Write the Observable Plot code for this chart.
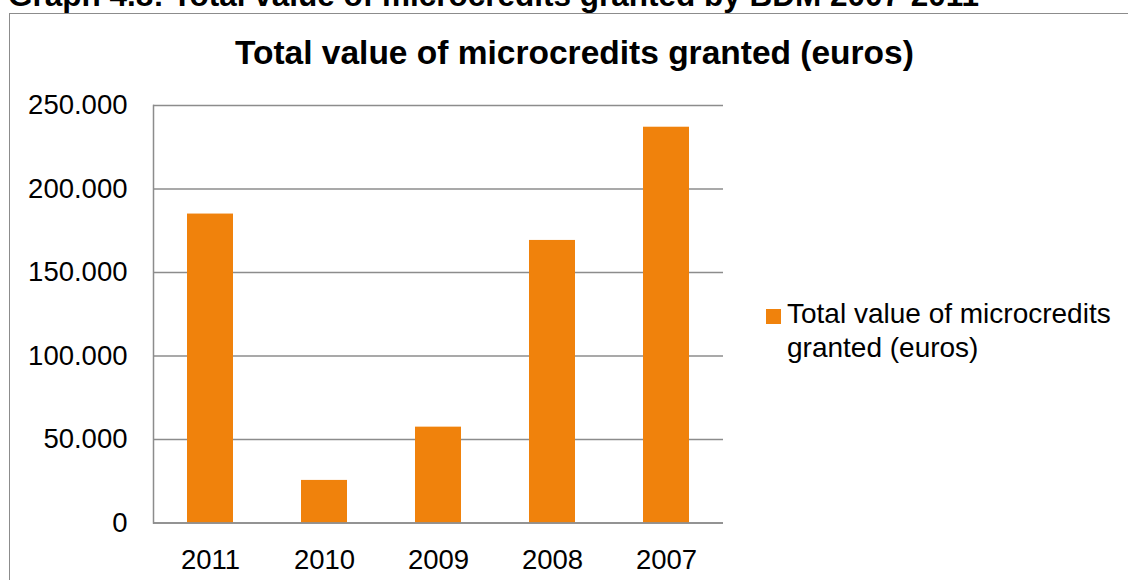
<!DOCTYPE html>
<html>
<head>
<meta charset="utf-8">
<script src="https://cdn.jsdelivr.net/npm/d3@7"></script>
<script src="https://cdn.jsdelivr.net/npm/@observablehq/plot@0.6"></script>
<style>
  html, body { margin: 0; padding: 0; background: #fff; }
  #page { position: relative; width: 1128px; height: 580px; overflow: hidden; font-family: "Liberation Sans", Arial, sans-serif; color: #000; }
  .abs { position: absolute; white-space: nowrap; }
  #doc-title { left: 8px; top: -21px; font-size: 31.5px; line-height: 32px; font-weight: bold; }
  #frame { left: 9px; top: 13px; width: 1300px; height: 800px; border: 1.5px solid #8c8c8c; box-sizing: border-box; }
  #chart-title { left: 235px; top: 36px; font-size: 33.5px; line-height: 34px; font-weight: bold; }
  #plot { left: 0; top: 0; }
  #legend-swatch { left: 766px; top: 309px; width: 15px; height: 15px; background: #F0820C; }
  #legend-text { left: 787px; top: 297px; font-size: 28px; line-height: 34px; }
</style>
</head>
<body>
<div id="page">
  <div id="frame" class="abs"></div>
  <div id="doc-title" class="abs">Graph 4.8: Total value of microcredits granted by BDM 2007-2011</div>
  <div id="chart-title" class="abs">Total value of microcredits granted (euros)</div>
  <div id="plot" class="abs"></div>
  <div id="legend-swatch" class="abs"></div>
  <div id="legend-text" class="abs">Total value of microcredits<br>granted (euros)</div>
</div>
<script>
const years = ["2011", "2010", "2009", "2008", "2007"];
const values = [185000, 25500, 57400, 169200, 237000];
const yTicks = [0, 50000, 100000, 150000, 200000, 250000];

const data = years.map((year, i) => ({year, value: values[i]}));
const fmt = d => d3.format(",")(d).replace(/,/g, ".");
const gray = "#8c8c8c";

const chart = Plot.plot({
  width: 1128,
  height: 580,
  marginLeft: 153,
  marginRight: 405,
  marginTop: 105,
  marginBottom: 57.5,
  style: {background: "transparent", fontFamily: "'Liberation Sans', Arial, sans-serif", color: "#000", overflow: "visible"},
  x: {domain: years, paddingInner: 0.6, paddingOuter: 0.3, label: null},
  y: {domain: [0, 250000], label: null},
  marks: [
    Plot.gridY(yTicks, {stroke: gray, strokeOpacity: 1, strokeWidth: 1.3}),
    Plot.barY(data, {x: "year", y: "value", fill: "#F0820C"}),
    Plot.frame({anchor: "left", stroke: gray, strokeWidth: 1.5}),
    Plot.ruleY([0], {stroke: gray, strokeWidth: 1.5}),
    Plot.axisY(yTicks, {tickSize: 0, tickPadding: 26, tickFormat: fmt, fontSize: 27.5, fill: "#000", label: null}),
    Plot.axisX({tickSize: 0, tickPadding: 26, fontSize: 27.5, fill: "#000", label: null})
  ]
});
document.getElementById("plot").appendChild(chart);
</script>
</body>
</html>
